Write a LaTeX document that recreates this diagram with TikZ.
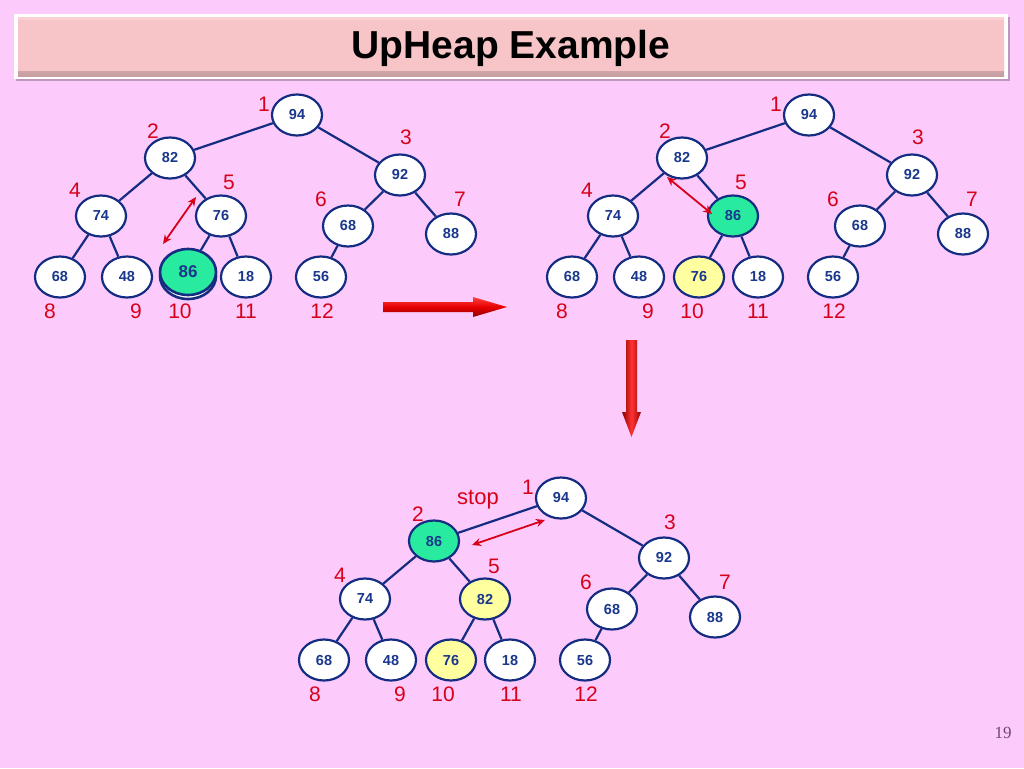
\documentclass[tikz,border=0pt]{standalone}
\usepackage{fontspec}
\setmainfont{Liberation Sans}
\newfontfamily\pagenumfont{Liberation Serif}
\usetikzlibrary{shapes.geometric,arrows.meta}
\definecolor{bg}{RGB}{253,202,252}
\definecolor{nodeblue}{RGB}{20,45,130}
\definecolor{txtblue}{RGB}{25,55,140}
\definecolor{lblred}{RGB}{215,0,25}
\definecolor{hgreen}{RGB}{40,235,160}
\definecolor{hyellow}{RGB}{255,255,160}
\definecolor{titlepink}{RGB}{247,197,200}
\definecolor{pagenum}{RGB}{110,70,110}
\tikzset{
 hnode/.style={ellipse, draw=nodeblue, line width=2.2pt, fill=white, minimum width=50pt, minimum height=41pt, inner sep=0pt, font=\fontsize{14.5}{14.5}\bfseries\selectfont, text=txtblue},
 gnode/.style={hnode, fill=hgreen},
 ynode/.style={hnode, fill=hyellow},
 bignode/.style={minimum width=56pt, minimum height=46pt, line width=2.6pt, font=\fontsize{17}{17}\bfseries\selectfont},
 edge/.style={draw=nodeblue, line width=2.2pt},
 idx/.style={font=\fontsize{21}{21}\selectfont, text=lblred, inner sep=0pt},
 swaparrow/.style={draw=lblred, line width=1.8pt, {Stealth[length=9pt,width=8pt]}-{Stealth[length=9pt,width=8pt]}},
}
\begin{document}
\begin{tikzpicture}[x=1pt,y=-1pt]
\useasboundingbox (0,0) rectangle (1024,768);
\fill[bg] (0,0) rectangle (1024,768);
% title
\fill[black, opacity=0.25] (16,17) rectangle (1010,81);
\fill[white] (14,14) rectangle (1008,79);
\shade[top color=titlepink!80!white, bottom color=titlepink!80!black, middle color=titlepink] (18,18) rectangle (1004,76);
\fill[titlepink] (18,20) rectangle (1004,71);
\node[font=\fontsize{39}{39}\bfseries\selectfont, inner sep=0pt] (title) at (511,48) {UpHeap Example};
% ---------- tree 1 ----------
\begin{scope}
\node[hnode] (a1) at (297,115) {94};
\node[hnode] (a2) at (170,158) {82};
\node[hnode] (a3) at (400,175) {92};
\node[hnode] (a4) at (101,216) {74};
\node[hnode] (a5) at (221,216) {76};
\node[hnode] (a6) at (348,226) {68};
\node[hnode] (a7) at (451,234) {88};
\node[hnode] (a8) at (60,277) {68};
\node[hnode] (a9) at (127,277) {48};
\node[hnode, bignode] (a10s) at (188,276) {};
\node[gnode, bignode] (a10) at (188,272) {86};
\node[hnode] (a11) at (246,277) {18};
\node[hnode] (a12) at (321,277) {56};
\draw[edge] (a1)--(a2) (a1)--(a3) (a2)--(a4) (a2)--(a5) (a3)--(a6) (a3)--(a7)
  (a4)--(a8) (a4)--(a9) (a5)--(a10) (a5)--(a11) (a6)--(a12);
\node[idx] (a1l) at (264,104) {1};
\node[idx] (a2l) at (153,131) {2};
\node[idx] (a3l) at (406,137) {3};
\node[idx] (a4l) at (75,190) {4};
\node[idx] (a5l) at (229,182) {5};
\node[idx] (a6l) at (321,199) {6};
\node[idx] (a7l) at (460,199) {7};
\node[idx] (a8l) at (50,311) {8};
\node[idx] (a9l) at (136,311) {9};
\node[idx] (a10l) at (180,311) {10};
\node[idx] (a11l) at (246,311) {11};
\node[idx] (a12l) at (322,311) {12};
\coordinate (asw1) at (196,197);
\coordinate (asw2) at (163,244);
\draw[swaparrow] (asw1) -- (asw2);
\end{scope}
% ---------- tree 2 ----------
\begin{scope}[shift={(512,0)}]
\node[hnode] (b1) at (297,115) {94};
\node[hnode] (b2) at (170,158) {82};
\node[hnode] (b3) at (400,175) {92};
\node[hnode] (b4) at (101,216) {74};
\node[gnode] (b5) at (221,216) {86};
\node[hnode] (b6) at (348,226) {68};
\node[hnode] (b7) at (451,234) {88};
\node[hnode] (b8) at (60,277) {68};
\node[hnode] (b9) at (127,277) {48};
\node[ynode] (b10) at (187,277) {76};
\node[hnode] (b11) at (246,277) {18};
\node[hnode] (b12) at (321,277) {56};
\draw[edge] (b1)--(b2) (b1)--(b3) (b2)--(b4) (b2)--(b5) (b3)--(b6) (b3)--(b7)
  (b4)--(b8) (b4)--(b9) (b5)--(b10) (b5)--(b11) (b6)--(b12);
\node[idx] (b1l) at (264,104) {1};
\node[idx] (b2l) at (153,131) {2};
\node[idx] (b3l) at (406,137) {3};
\node[idx] (b4l) at (75,190) {4};
\node[idx] (b5l) at (229,182) {5};
\node[idx] (b6l) at (321,199) {6};
\node[idx] (b7l) at (460,199) {7};
\node[idx] (b8l) at (50,311) {8};
\node[idx] (b9l) at (136,311) {9};
\node[idx] (b10l) at (180,311) {10};
\node[idx] (b11l) at (246,311) {11};
\node[idx] (b12l) at (322,311) {12};
\coordinate (bsw1) at (155,177);
\coordinate (bsw2) at (200,214);
\draw[swaparrow] (bsw1) -- (bsw2);
\end{scope}
% ---------- tree 3 ----------
\begin{scope}[shift={(264,383)}]
\node[hnode] (c1) at (297,115) {94};
\node[gnode] (c2) at (170,158) {86};
\node[hnode] (c3) at (400,175) {92};
\node[hnode] (c4) at (101,216) {74};
\node[ynode] (c5) at (221,216) {82};
\node[hnode] (c6) at (348,226) {68};
\node[hnode] (c7) at (451,234) {88};
\node[hnode] (c8) at (60,277) {68};
\node[hnode] (c9) at (127,277) {48};
\node[ynode] (c10) at (187,277) {76};
\node[hnode] (c11) at (246,277) {18};
\node[hnode] (c12) at (321,277) {56};
\draw[edge] (c1)--(c2) (c1)--(c3) (c2)--(c4) (c2)--(c5) (c3)--(c6) (c3)--(c7)
  (c4)--(c8) (c4)--(c9) (c5)--(c10) (c5)--(c11) (c6)--(c12);
\node[idx] (c1l) at (264,104) {1};
\node[idx] (c2l) at (154,131) {2};
\node[idx] (c3l) at (406,139) {3};
\node[idx] (c4l) at (76,192) {4};
\node[idx] (c5l) at (230,183) {5};
\node[idx] (c6l) at (322,199) {6};
\node[idx] (c7l) at (461,199) {7};
\node[idx] (c8l) at (51,311) {8};
\node[idx] (c9l) at (136,311) {9};
\node[idx] (c10l) at (179,311) {10};
\node[idx] (c11l) at (247,311) {11};
\node[idx] (c12l) at (322,311) {12};
\node[idx, font=\fontsize{22}{22}\selectfont] (cstop) at (214,117) {stop};
\coordinate (csw1) at (208,162);
\coordinate (csw2) at (281,137);
\draw[swaparrow] (csw1) -- (csw2);
\end{scope}
% ---------- big red arrows ----------
\shade[top color=red!75!white, bottom color=red!55!black, middle color=red!90!black]
  (383,302) -- (473,302) -- (473,297) -- (507,307) -- (473,317) -- (473,312) -- (383,312) -- cycle;
\shade[left color=red!55!black, right color=red!60!black, middle color=red!80!white]
  (626,340) -- (637,340) -- (637,412) -- (641,412) -- (631.5,437) -- (622,412) -- (626,412) -- cycle;
% page number
\node[font=\pagenumfont\fontsize{17}{17}\selectfont, text=pagenum] (pnum) at (1003,733) {19};
\end{tikzpicture}
\end{document}
